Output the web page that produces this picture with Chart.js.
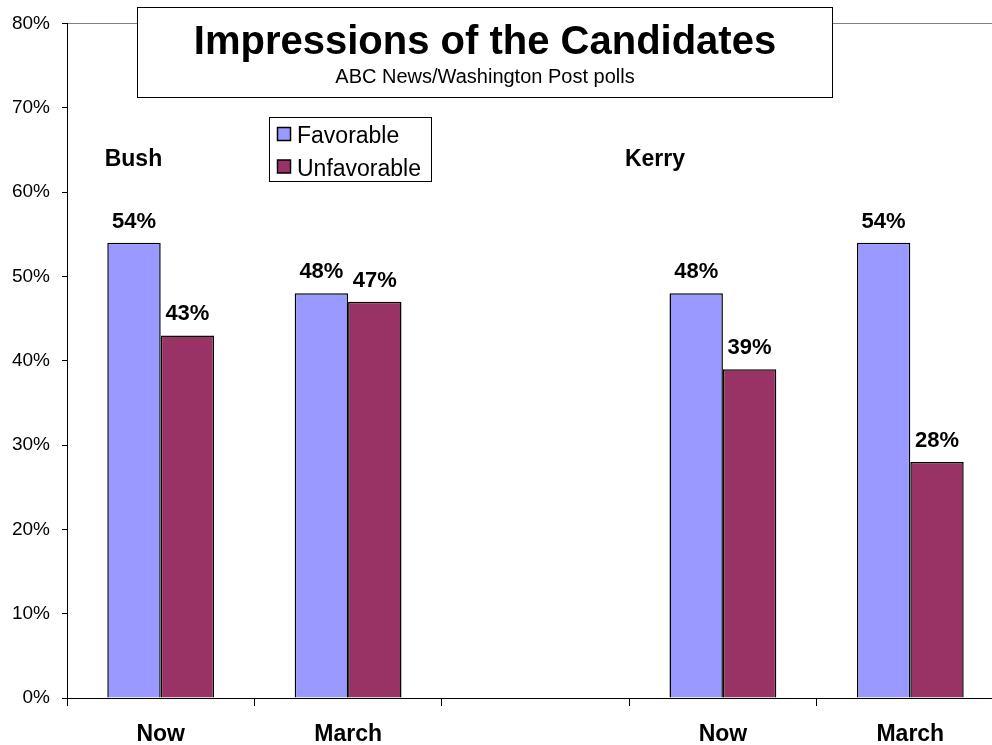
<!DOCTYPE html>
<html>
<head>
<meta charset="utf-8">
<script src="https://cdn.jsdelivr.net/npm/chart.js@4.4.0/dist/chart.umd.min.js"></script>
<style>
  html, body { margin: 0; padding: 0; background: #fff; overflow: hidden; }
  #wrap { width: 992px; height: 745px; overflow: hidden; }
  canvas { display: block; }
</style>
</head>
<body>
<div id="wrap"><canvas id="impressions" width="1010" height="745"></canvas></div>
<script>
// poll data (percent)
var periods = ['Now', 'March', '', 'Now', 'March'];
var favorable = [54, 48, null, 48, 54];
var unfavorable = [43, 47, null, 39, 28];
var candidates = ['Bush', 'Kerry'];
var yTicks = [0, 10, 20, 30, 40, 50, 60, 70, 80];

var FONT = "'Liberation Sans', Arial, sans-serif";

// title box, legend box, candidate names and the value labels
var decorations = {
    id: 'decorations',
    afterDatasetsDraw: function(chart) {
        var ctx = chart.ctx;
        var x = chart.scales.x;

        // value labels above each bar
        ctx.save();
        ctx.fillStyle = '#000';
        ctx.font = 'bold 22px ' + FONT;
        ctx.textAlign = 'center';
        ctx.textBaseline = 'alphabetic';
        chart.data.datasets.forEach(function(ds, i) {
            chart.getDatasetMeta(i).data.forEach(function(bar, j) {
                if (ds.data[j] == null) return;
                ctx.fillText(ds.data[j] + '%', bar.x, bar.y - 15);
            });
        });

        // candidate names
        ctx.font = 'bold 23px ' + FONT;
        ctx.textAlign = 'left';
        ctx.fillText(candidates[0], x.getPixelForValue(0) - 56, 166);
        ctx.fillText(candidates[1], x.getPixelForValue(3) - 98, 166);

        // title box
        ctx.fillStyle = '#fff';
        ctx.fillRect(137.5, 7.5, 695, 90);
        ctx.strokeStyle = '#000';
        ctx.lineWidth = 1;
        ctx.strokeRect(137.5, 7.5, 695, 90);
        ctx.fillStyle = '#000';
        ctx.textAlign = 'center';
        ctx.font = 'bold 40px ' + FONT;
        ctx.fillText('Impressions of the Candidates', 485, 54);
        ctx.font = '20px ' + FONT;
        ctx.fillText('ABC News/Washington Post polls', 485, 83);

        // legend box
        ctx.fillStyle = '#fff';
        ctx.fillRect(269.5, 117.5, 162, 64);
        ctx.strokeStyle = '#000';
        ctx.strokeRect(269.5, 117.5, 162, 64);
        ctx.textAlign = 'left';
        ctx.font = '23px ' + FONT;
        chart.data.datasets.forEach(function(ds, i) {
            var ty = 127 + i * 32.5;
            ctx.fillStyle = ds.backgroundColor;
            ctx.fillRect(277.5, ty + 0.5, 13, 13);
            ctx.strokeStyle = '#000';
            ctx.lineWidth = 1.5;
            ctx.strokeRect(277.5, ty + 0.5, 13, 13);
            ctx.fillStyle = '#000';
            ctx.fillText(ds.label, 297, ty + 16);
        });
        ctx.restore();
    }
};

var chart = new Chart(document.getElementById('impressions').getContext('2d'), {
    type: 'bar',
    data: {
        labels: periods,
        datasets: [{
            label: 'Favorable',
            data: favorable,
            backgroundColor: '#9999FF',
            borderColor: '#000',
            borderWidth: 1.5
        }, {
            label: 'Unfavorable',
            data: unfavorable,
            backgroundColor: '#993366',
            borderColor: '#000',
            borderWidth: 1.5
        }]
    },
    options: {
        responsive: false,
        animation: false,
        layout: { padding: { top: 22, right: 6, left: 0, bottom: 0 } },
        categoryPercentage: 0.57,
        barPercentage: 1.0,
        plugins: {
            legend: { display: false },
            title: { display: false },
            tooltip: { enabled: false }
        },
        scales: {
            x: {
                offset: true,
                grid: {
                    offset: true,
                    drawOnChartArea: false,
                    drawTicks: true,
                    tickLength: 8,
                    color: '#000'
                },
                border: { color: '#000', width: 1 },
                ticks: {
                    color: '#000',
                    padding: 15,
                    font: { family: FONT, size: 23, weight: 'bold' }
                },
                afterFit: function(s) { s.height = 47; }
            },
            y: {
                min: 0,
                max: 80,
                afterBuildTicks: function(s) {
                    s.ticks = yTicks.map(function(v) { return { value: v }; });
                },
                grid: {
                    drawTicks: true,
                    tickLength: 5,
                    color: function(c) { return c.tick && c.tick.value === 80 ? '#808080' : 'rgba(0,0,0,0)'; },
                    tickColor: '#000'
                },
                border: { color: '#000', width: 1 },
                ticks: {
                    color: '#000',
                    padding: 12,
                    font: { family: FONT, size: 19 },
                    callback: function(v) { return v + '%'; }
                },
                afterFit: function(s) { s.width = 67; }
            }
        }
    },
    plugins: [decorations]
});
</script>
</body>
</html>
